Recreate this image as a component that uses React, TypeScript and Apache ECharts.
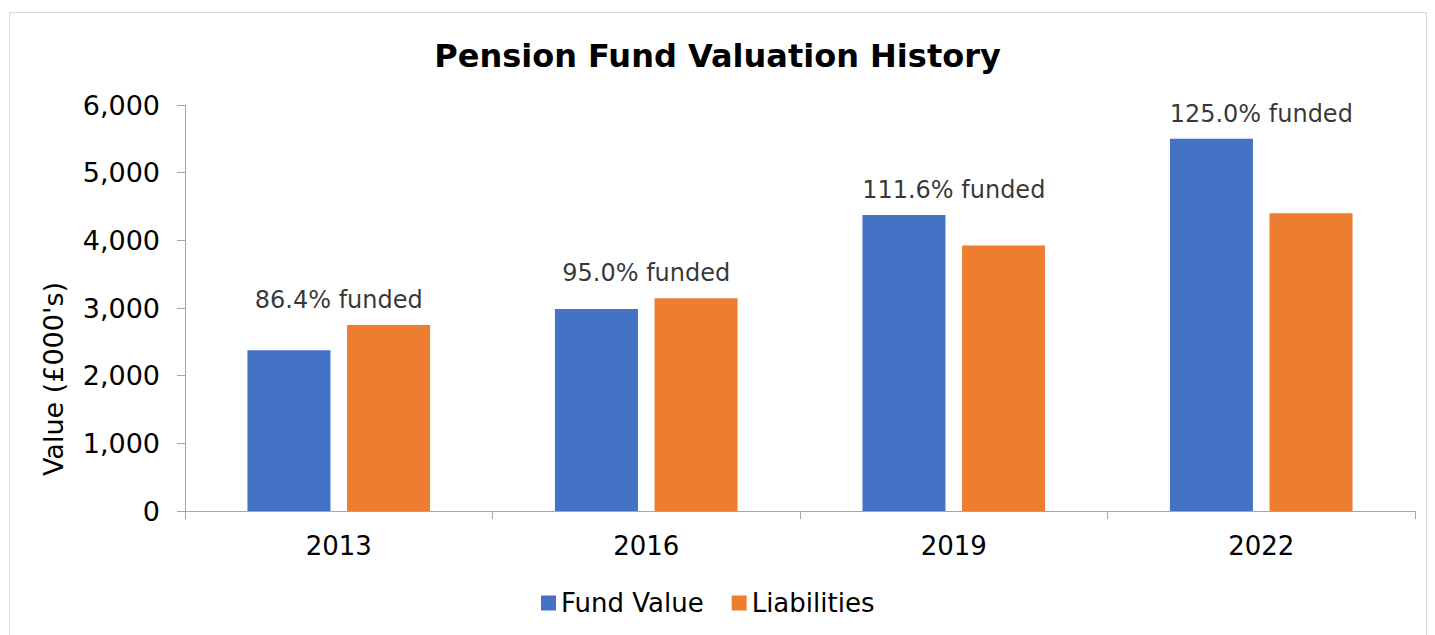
import React, { useEffect, useRef } from "react";
import * as echarts from "echarts";

const years = ["2013", "2016", "2019", "2022"];
const fundValue = [2375, 2985, 4375, 5500];
const liabilities = [2748, 3145, 3925, 4400];
const fundedLabels = ["86.4% funded", "95.0% funded", "111.6% funded", "125.0% funded"];
const yTicks = { min: 0, max: 6000, interval: 1000 };

const FONT = "'DejaVu Sans', Verdana, sans-serif";

export default function App() {
  const ref = useRef<HTMLDivElement>(null);
  useEffect(() => {
    if (!ref.current) return;
    const chart = echarts.init(ref.current, undefined, { renderer: "svg" });
    const tops = years.map((_, i) => Math.max(fundValue[i], liabilities[i]));
    chart.setOption({
      animation: false,
      textStyle: { fontFamily: FONT },
      title: {
        text: "Pension Fund Valuation History",
        left: "center",
        top: 35,
        textStyle: { fontFamily: FONT, fontSize: 32, fontWeight: "bold", color: "#000" },
      },
      legend: {
        data: ["Fund Value", "Liabilities"],
        left: 536,
        top: 585,
        icon: "rect",
        itemWidth: 15,
        itemHeight: 15,
        itemGap: 28,
        textStyle: { fontFamily: FONT, fontSize: 26, color: "#000" },
      },
      grid: { left: 185, right: 20, top: 105, bottom: 124 },
      xAxis: {
        type: "category",
        data: years,
        axisLine: { lineStyle: { color: "#a6a6a6", width: 1 } },
        axisTick: { show: true, length: 8, lineStyle: { color: "#a6a6a6" } },
        axisLabel: { fontFamily: FONT, fontSize: 26, color: "#000", margin: 22 },
      },
      yAxis: {
        type: "value",
        min: yTicks.min,
        max: yTicks.max,
        interval: yTicks.interval,
        axisLine: { show: true, lineStyle: { color: "#a6a6a6", width: 1 } },
        axisTick: { show: true, length: 8, lineStyle: { color: "#a6a6a6" } },
        splitLine: { show: false },
        axisLabel: {
          fontFamily: FONT,
          fontSize: 27,
          color: "#000",
          margin: 25,
          formatter: (v: number) => v.toLocaleString("en-GB"),
        },
      },
      graphic: [
        {
          type: "text",
          x: 53,
          y: 379,
          rotation: Math.PI / 2,
          style: {
            text: "Value (£000's)",
            fontFamily: FONT,
            fontSize: 27,
            fill: "#000",
            align: "center",
            verticalAlign: "middle",
          },
        },
      ],
      series: [
        {
          name: "Fund Value",
          type: "bar",
          data: fundValue,
          barWidth: 83,
          barGap: "20%",
          itemStyle: { color: "#4472C4" },
        },
        {
          name: "Liabilities",
          type: "bar",
          data: liabilities,
          barWidth: 83,
          itemStyle: { color: "#ED7D31" },
        },
        {
          name: "funded",
          type: "scatter",
          data: tops,
          symbolSize: 0,
          silent: true,
          label: {
            show: true,
            position: "top",
            distance: 13,
            fontFamily: FONT,
            fontSize: 24,
            color: "#000",
            formatter: (p: any) => fundedLabels[p.dataIndex],
          },
        },
      ],
    });
    return () => chart.dispose();
  }, []);
  return (
    <>
      <div
        style={{
          position: "absolute",
          left: 9,
          top: 12,
          width: 1418,
          height: 700,
          border: "1px solid #d9d9d9",
          boxSizing: "border-box",
        }}
      />
      <div
        ref={ref}
        style={{ position: "absolute", left: 0, top: 0, width: 1435, height: 635 }}
      />
    </>
  );
}
